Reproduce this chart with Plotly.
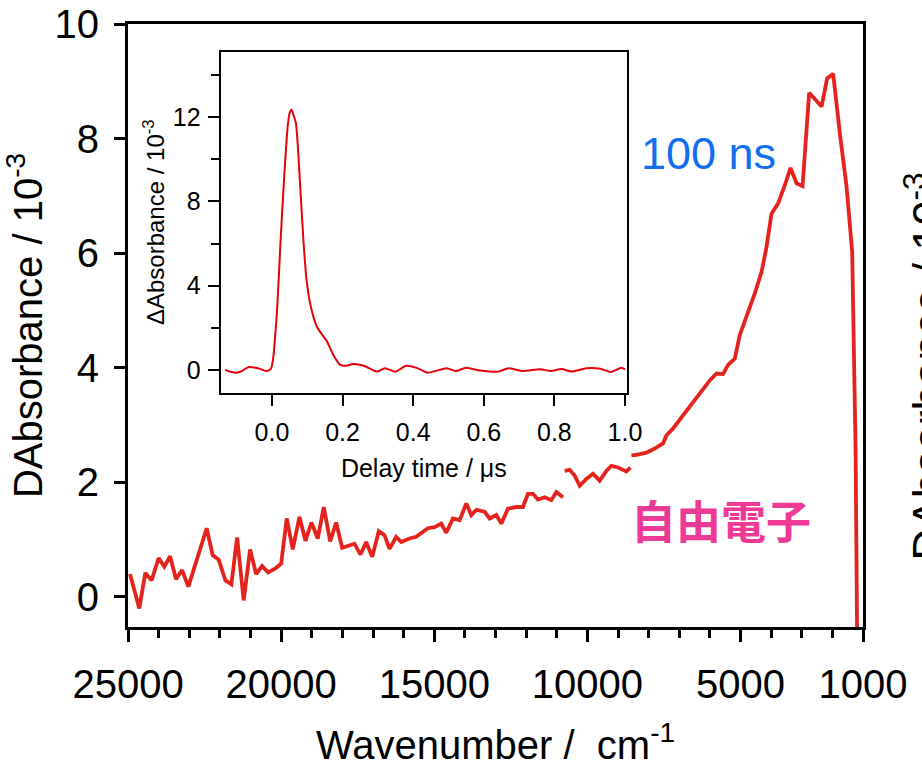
import plotly.graph_objects as go

# ---------------- data ----------------
wavenumber = [24935, 24631, 24435, 24229, 24000, 23814, 23627, 23431, 23235, 23029,
              22431, 22235, 22039, 21820, 21624, 21438, 21222, 21013, 20817, 20621,
              20425, 20186, 20000, 19817, 19621, 19402, 19206, 19010, 18804, 18608,
              18399, 18203, 18007, 17605, 17409, 17222, 17026, 16810, 16624, 16461,
              16242, 16078, 15807, 15588, 15209, 14990, 14771, 14608, 14392, 14173,
              13954, 13791, 13627, 13356, 13193, 12974, 12810, 12595, 12320, 12105,
              11941, 11778, 11614, 11395, 11176, 11013, 10797,
              10770,
              10742, 10578, 10415, 10252, 10033, 9817, 9598, 9379, 9216, 9000,
              8725, 8595,
              8580,
              8562, 8399, 8072, 7801, 7529, 7418, 7203, 6876, 6601, 6222,
              6003, 5784, 5569, 5405, 5186, 5023, 4804, 4533, 4314, 4150,
              3987, 3771, 3552, 3366, 3170, 2974, 2758, 2353, 2170, 1974,
              1755, 1536, 1353, 1297, 1242, 1180]
d_absorbance = [0.40, -0.20, 0.42, 0.29, 0.68, 0.53, 0.71, 0.31, 0.47, 0.18,
                1.20, 0.73, 0.65, 0.29, 0.22, 1.04, -0.06, 0.83, 0.40, 0.54,
                0.43, 0.50, 0.58, 1.37, 0.83, 1.40, 0.98, 1.30, 1.02, 1.57,
                0.97, 1.30, 0.86, 0.93, 0.74, 0.96, 0.70, 1.15, 1.08, 0.84,
                1.05, 0.96, 1.02, 1.05, 1.20, 1.22, 1.28, 1.12, 1.37, 1.34,
                1.63, 1.43, 1.52, 1.49, 1.37, 1.43, 1.28, 1.54, 1.57, 1.57,
                1.80, 1.80, 1.70, 1.74, 1.69, 1.83, 1.74,
                None,
                2.20, 2.22, 2.12, 1.94, 2.06, 2.15, 2.03, 2.20, 2.29, 2.26,
                2.19, 2.26,
                None,
                2.47, 2.48, 2.52, 2.59, 2.68, 2.82, 2.94, 3.17, 3.35, 3.64,
                3.78, 3.90, 3.89, 4.05, 4.16, 4.57, 4.89, 5.30, 5.67, 6.11,
                6.69, 6.87, 7.19, 7.49, 7.22, 7.17, 8.80, 8.56, 9.05, 9.13,
                8.09, 7.16, 6.02, 4.31, 2.59, -1.5]

delay_time = [-0.133, -0.115, -0.100, -0.085, -0.067, -0.040, -0.015, -0.003, 0.004, 0.010,
              0.015, 0.0245, 0.034, 0.0444, 0.050, 0.0557, 0.061, 0.068, 0.079, 0.089,
              0.098, 0.110, 0.127, 0.145, 0.155, 0.174, 0.193, 0.210, 0.230, 0.260,
              0.297, 0.320, 0.350, 0.380, 0.410, 0.440, 0.495, 0.520, 0.550, 0.590,
              0.640, 0.670, 0.710, 0.760, 0.790, 0.820, 0.850, 0.890, 0.930, 0.960,
              0.990, 1.000]
inset_absorbance = [0.00, -0.10, -0.13, -0.05, 0.13, 0.08, -0.05, 0.05, 0.63, 1.8,
                    3.0, 6.17, 9.0, 11.54, 12.2, 12.35, 12.1, 11.7, 9.0, 6.17,
                    4.27, 3.0, 2.06, 1.6, 1.38, 0.71, 0.24, 0.20, 0.28, 0.20,
                    -0.08, 0.08, -0.08, 0.20, 0.10, -0.13, 0.08, -0.05, 0.10, -0.03,
                    -0.08, 0.08, -0.05, 0.03, -0.05, 0.05, -0.08, 0.08, 0.06, -0.10,
                    0.10, 0.03]

main_xticks = [25000, 20000, 15000, 10000, 5000, 1000]
main_xticklabels = ["25000", "20000", "15000", "10000", "5000", "1000"]
main_yticks = [0, 2, 4, 6, 8, 10]
inset_xticks = [0.0, 0.2, 0.4, 0.6, 0.8, 1.0]
inset_xticklabels = ["0.0", "0.2", "0.4", "0.6", "0.8", "1.0"]
inset_yticks = [0, 4, 8, 12]
inset_yminor = [2, 6, 10, 14]

FONT = "Liberation Sans, Arial, Helvetica, sans-serif"

fig = go.Figure()
fig.add_trace(go.Scatter(x=wavenumber, y=d_absorbance, mode="lines",
                         line=dict(color="#e5231d", width=3.8),
                         connectgaps=False, showlegend=False,
                         xaxis="x", yaxis="y"))
fig.add_trace(go.Scatter(x=delay_time, y=inset_absorbance, mode="lines",
                         line=dict(color="#e8000b", width=2, shape="spline", smoothing=0.6),
                         showlegend=False, xaxis="x2", yaxis="y2"))

fig.update_layout(
    template="none",
    width=922, height=774,
    margin=dict(l=128, r=59, t=24, b=147, pad=0, autoexpand=False),
    paper_bgcolor="white", plot_bgcolor="white",
    font=dict(family=FONT, color="black"),
    showlegend=False,
    xaxis=dict(
        domain=[0, 1], anchor="y", automargin=False,
        range=[25000, 1000], autorange=False,
        tickmode="array", tickvals=main_xticks, ticktext=main_xticklabels,
        ticks="outside", ticklen=12, tickwidth=3, tickcolor="black",
        minor=dict(ticks="outside", ticklen=8, tickwidth=3, tickcolor="black",
                   tickmode="linear", tick0=0, dtick=1000, showgrid=False),
        showline=True, linewidth=3, linecolor="black", mirror=True,
        showgrid=False, zeroline=False,
        tickfont=dict(size=40, family=FONT, color="black"),
        ticklabelstandoff=8,
        title=dict(text="Wavenumber / \u00a0cm<sup>-1</sup>",
                   font=dict(size=40, family=FONT, color="black"), standoff=26),
    ),
    yaxis=dict(
        domain=[0, 1], anchor="x", automargin=False,
        range=[-0.524, 10], autorange=False,
        tickmode="array", tickvals=main_yticks,
        ticks="outside", ticklen=11, tickwidth=3, tickcolor="black",
        showline=True, linewidth=3, linecolor="black", mirror=True,
        showgrid=False, zeroline=False,
        tickfont=dict(size=40, family=FONT, color="black"),
        ticklabelstandoff=7,
        title=dict(text="DAbsorbance / 10<sup>-3</sup>",
                   font=dict(size=40, family=FONT, color="black"), standoff=4),
    ),
    xaxis2=dict(
        domain=[0.1261, 0.6789], anchor="y2", automargin=False,
        range=[-0.1453, 1.0057], autorange=False,
        tickmode="array", tickvals=inset_xticks, ticktext=inset_xticklabels,
        ticks="outside", ticklen=11, tickwidth=2, tickcolor="black",
        showline=True, linewidth=2, linecolor="black", mirror=True,
        showgrid=False, zeroline=False,
        tickfont=dict(size=25, family=FONT, color="black"),
        ticklabelstandoff=5,
        title=dict(text="Delay time / \u03bcs",
                   font=dict(size=25, family=FONT, color="black"), standoff=15),
    ),
    yaxis2=dict(
        domain=[0.3886, 0.954], anchor="x2", automargin=False,
        range=[-1.08, 15.11], autorange=False,
        tickmode="array", tickvals=inset_yticks,
        ticks="outside", ticklen=11, tickwidth=2, tickcolor="black",
        minor=dict(ticks="outside", ticklen=8, tickwidth=2, tickcolor="black",
                   tickmode="array", tickvals=inset_yminor, showgrid=False),
        showline=True, linewidth=2, linecolor="black", mirror=True,
        showgrid=False, zeroline=False,
        tickfont=dict(size=25, family=FONT, color="black"),
        ticklabelstandoff=2,
        title=dict(text="\u0394Absorbance / 10<sup>-3</sup>",
                   font=dict(size=24, family=FONT, color="black"), standoff=1),
    ),
    annotations=[
        dict(text="100 ns", xref="paper", yref="paper", x=0.790, y=0.786,
             xanchor="center", yanchor="middle", showarrow=False,
             font=dict(size=45, family=FONT, color="#116ef0")),
        dict(text="<b>自由電子</b>", xref="paper", yref="paper", x=0.807, y=0.179,
             xanchor="center", yanchor="middle", showarrow=False,
             font=dict(size=45, family="Noto Sans CJK JP, sans-serif", color="#ee3a97")),
        dict(text="DAbsorbance / 10<sup>-3</sup>", xref="paper", yref="paper",
             x=1.041, y=0.432, xanchor="left", yanchor="middle", textangle=-90,
             showarrow=False,
             font=dict(size=45, family=FONT, color="black")),
    ],
)

fig.write_html("out.html")
